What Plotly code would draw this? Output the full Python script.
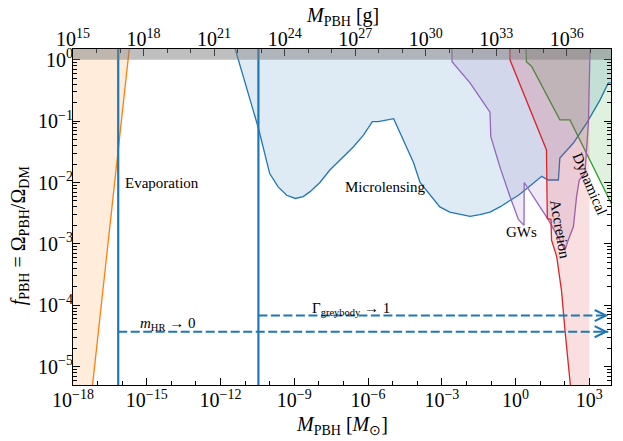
import numpy as np
import plotly.graph_objects as go

# PBH mass in solar masses, f_PBH = Omega_PBH / Omega_DM
evap_M = [4.5e-18, 2.5e-16]
evap_f = [1.5e-6, 3.8]

micro_M = [3.2e-12, 3.5e-11, 1.0e-10, 2.2e-10, 4.9e-10, 1.1e-9, 2.3e-9, 4.4e-9, 1.1e-8,
           2.8e-8, 2.5e-7, 6.5e-7, 1.5e-6, 2.6e-6, 1.1e-5, 2.0e-5, 3.7e-5, 7.1e-5, 1.3e-4,
           3.2e-4, 8.3e-4, 2.1e-3, 5.5e-3, 1.4e-2, 3.5e-2, 9.1e-2, 0.23, 0.59, 1.3, 2.8,
           11.5, 21, 55, 63, 224, 776, 2700, 5900, 8900]
micro_f = [2.0, 7.6e-2, 1.4e-2, 8.5e-3, 6.2e-3, 5.5e-3, 5.9e-3, 7.1e-3, 1.0e-2,
           1.6e-2, 3.8e-2, 5.9e-2, 9.8e-2, 9.8e-2, 1.1e-1, 6.5e-2, 3.8e-2, 2.1e-2, 1.0e-2,
           6.3e-3, 4.0e-3, 3.3e-3, 3.0e-3, 2.8e-3, 3.0e-3, 3.3e-3, 4.0e-3, 5.1e-3, 6.2e-3, 7.9e-3,
           1.26e-2, 1.1e-2, 1.1e-2, 2.5e-2, 4.4e-2, 9.3e-2, 0.22, 0.42, 0.42]

gw_M = [2.5e-3, 2.6e-3, 1.4e-2, 9.1e-2, 9.8e-2, 0.23, 0.59, 1.3, 2.2, 2.24, 9.8, 21,
        63, 102, 138, 224, 302, 389, 661, 776, 912, 1050, 1120]
gw_f = [2.0, 0.93, 0.42, 0.14, 5.6e-2, 1.8e-2, 5.9e-3, 2.5e-3, 2.0e-3, 1.0e-2, 4.0e-3, 2.5e-3,
        1.15e-3, 7.9e-4, 1.15e-3, 1.9e-3, 5.9e-3, 1.1e-2, 1.4e-2, 3.4e-2, 9.3e-2, 1.12, 2.0]

accr_M = [0.59, 0.59, 18, 19.5, 27.5, 29, 47, 74, 102, 178, 200]
accr_f = [2.0, 1.0, 3.4e-2, 2.6e-3, 2.5e-3, 1.15e-3, 6.2e-4, 1.7e-4, 3.9e-5, 5.0e-6, 2.5e-6]
accr_Mmax = 1e3

dyn_M = [2.6, 2.75, 4.5, 63, 162, 8900]
dyn_f = [2.0, 0.93, 0.78, 0.105, 0.105, 4.1e-3]

# bounds from the two assumptions
hr_M, hr_f = 6.9e-17, 3.7e-5
grey_M, grey_f = 3.47e-11, 6.8e-5
arrow_end = 5.9e3

xlog = [-18, 3.88]
glog = [15, 37.88]
ylog = [-5.3, 0.176]
top, left = 2.0, 1e-19

blue, orange, green, red, purple = "#1f77b4", "#ff7f0e", "#2ca02c", "#d62728", "#9467bd"
FONT = "Liberation Serif"


def rgba(h, a):
    h = h.lstrip("#")
    return "rgba(%d,%d,%d,%s)" % (int(h[0:2], 16), int(h[2:4], 16), int(h[4:6], 16), a)


fig = go.Figure()


def region(xs, ys, color, alpha=0.15):
    fig.add_trace(go.Scatter(x=xs, y=ys, mode="lines", fill="toself", line=dict(width=0),
                             fillcolor=rgba(color, alpha), hoverinfo="skip", showlegend=False))


def curve(xs, ys, color, width=1.3):
    fig.add_trace(go.Scatter(x=xs, y=ys, mode="lines", line=dict(color=color, width=width),
                             hoverinfo="skip", showlegend=False))


# evaporation
region(evap_M + [left, left], evap_f + [evap_f[-1], evap_f[0]], orange)
curve(evap_M, evap_f, orange)
# microlensing
region(micro_M + [micro_M[-1], micro_M[0]], micro_f + [top, top], blue)
curve(micro_M, micro_f, blue)
# dynamical
region(dyn_M + [dyn_M[-1]], dyn_f + [top], green)
curve(dyn_M, dyn_f, green)
# GWs
region(gw_M, gw_f, purple)
curve(gw_M, gw_f, purple)
# accretion
region(accr_M + [accr_Mmax, accr_Mmax], accr_f + [accr_f[-1], top], red)
curve(accr_M, accr_f, red)

# vertical thresholds
for m in [hr_M, grey_M]:
    curve([m, m], [1e-7, 10], blue, width=2.2)

# dashed arrows
for m, f in [(hr_M, hr_f), (grey_M, grey_f)]:
    fig.add_trace(go.Scatter(x=[m, arrow_end], y=[f, f], mode="lines",
                             line=dict(color=blue, width=2.2, dash="9px,3.5px"),
                             hoverinfo="skip", showlegend=False))
    fig.add_annotation(x=np.log10(arrow_end), y=np.log10(f), ax=np.log10(arrow_end) - 0.3,
                       ay=np.log10(f), axref="x", ayref="y", xref="x", yref="y", text="",
                       showarrow=True, arrowhead=5, arrowsize=1.1, arrowwidth=2.0,
                       arrowcolor=blue)

# dummy trace for top gram axis
fig.add_trace(go.Scatter(x=[10.0 ** glog[0], 10.0 ** glog[1]], y=[1e-3, 1e-3], xaxis="x2",
                         mode="markers", marker=dict(opacity=0), hoverinfo="skip",
                         showlegend=False))

# f > 1 excluded
fig.add_shape(type="rect", xref="paper", yref="y", x0=0, x1=1, y0=1, y1=10,
              fillcolor="rgba(128,128,128,0.5)", line=dict(width=0), layer="above")

labels = [
    ("Evaporation", 4.2e-15, 1.0e-2, 0),
    ("Microlensing", 5.1e-6, 8.4e-3, 0),
    ("GWs", 1.8, 1.55e-3, 0),
    ("Accretion", 66, 1.7e-3, 80),
    ("Dynamical", 1050, 9.5e-3, 67),
    ("<i>m</i><sub>HR</sub> → 0", 7.2e-15, 5.0e-5, 0),
    ("Γ<sub>greybody</sub> → 1", 2.1e-7, 8.7e-5, 0),
]
for t, x, y, ang in labels:
    fig.add_annotation(x=np.log10(x), y=np.log10(y), xref="x", yref="y", text=t,
                       showarrow=False, textangle=ang, font=dict(size=15, color="black"))

# axis titles
titles = [
    ("<i>M</i><sub>PBH</sub> [<i>M</i><sub>⊙</sub>]", 0.5, -0.12, 0),
    ("<i>M</i><sub>PBH</sub> [g]", 0.5, 1.097, 0),
    ("<i>f</i><sub>PBH</sub> = Ω<sub>PBH</sub>/Ω<sub>DM</sub>", -0.1, 0.446, -90),
]
for t, x, y, ang in titles:
    fig.add_annotation(x=x, y=y, xref="paper", yref="paper", text=t, showarrow=False,
                       xanchor="center", yanchor="middle", textangle=ang,
                       font=dict(size=20, color="black"))


def pw(e):
    return "10<sup>%s</sup>" % str(e).replace("-", "−")


xmaj = list(range(-18, 4, 3))
gmaj = list(range(15, 38, 3))
ymaj = list(range(-5, 1))
axis_common = dict(type="log", showgrid=False, zeroline=False, showline=True, automargin=False,
                   linecolor="black", linewidth=1.2, ticks="inside", ticklen=7, tickwidth=1.1,
                   tickcolor="black", tickfont=dict(size=20, family=FONT, color="black"))

# page body adds 8px around the figure
fig.update_layout(
    width=615, height=433,
    margin=dict(l=65, r=12, t=41, b=56),
    paper_bgcolor="white", plot_bgcolor="white",
    font=dict(family=FONT, color="black"),
    xaxis=dict(axis_common, range=xlog, tickmode="array", ticklabelstandoff=-3,
               tickvals=[10.0 ** e for e in xmaj], ticktext=[pw(e) for e in xmaj],
               minor=dict(tickmode="array", tickvals=[10.0 ** e for e in range(-18, 4)],
                          ticks="inside", ticklen=3.5, tickwidth=1, tickcolor="black")),
    xaxis2=dict(axis_common, range=glog, overlaying="x", side="top", anchor="y",
                tickmode="array", tickvals=[10.0 ** e for e in gmaj], ticklabelstandoff=-6,
                ticktext=[pw(e) for e in gmaj],
                minor=dict(tickmode="array", tickvals=[10.0 ** e for e in range(15, 38)],
                           ticks="inside", ticklen=3.5, tickwidth=1, tickcolor="black")),
    yaxis=dict(axis_common, range=ylog, mirror="ticks", tickmode="array", ticklabelstandoff=-5,
               tickvals=[10.0 ** e for e in ymaj], ticktext=[pw(e) for e in ymaj],
               minor=dict(tickmode="array",
                          tickvals=[k * 10.0 ** e for e in range(-6, 1) for k in range(2, 10)],
                          ticks="inside", ticklen=3.5, tickwidth=1, tickcolor="black")),
)

fig.write_html("out.html")
